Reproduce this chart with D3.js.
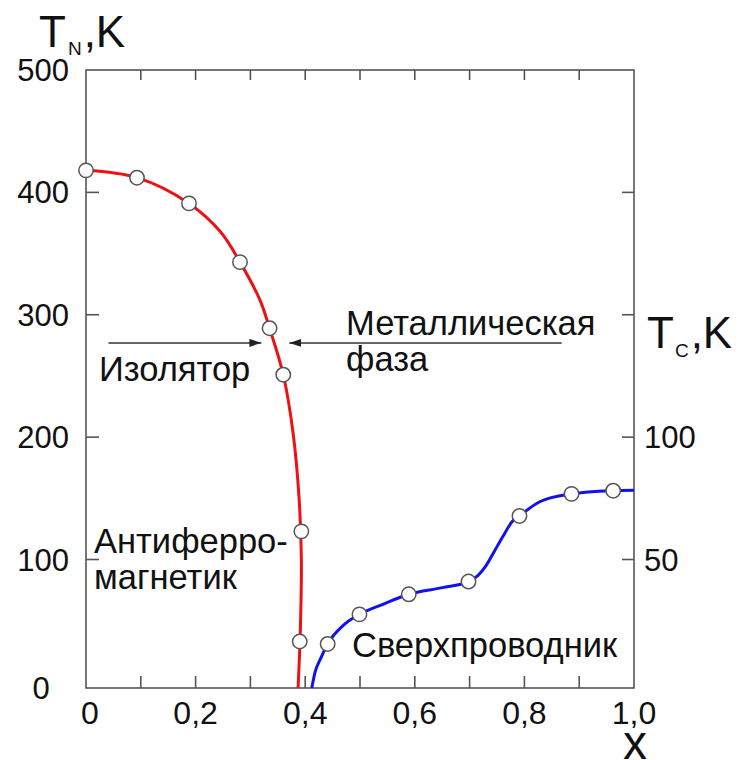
<!DOCTYPE html>
<html><head><meta charset="utf-8">
<script src="https://cdn.jsdelivr.net/npm/d3@7"></script>
<style>body{margin:0;background:#fff}svg{display:block}text{font-family:"Liberation Sans",Arial,sans-serif;fill:#111}</style>
</head><body><svg id="c" width="739" height="760"></svg>
<script>
// Measured points: Néel temperature (left axis)
const tnX = [0, 0.093, 0.188, 0.281, 0.335, 0.36, 0.393, 0.39];
const tnVal = [418, 412, 391, 343, 289, 251, 123, 33];
// Smooth guide line for T_N
const tnCurveX = [0, 0.093, 0.188, 0.245, 0.281, 0.3175, 0.335, 0.36, 0.378, 0.389, 0.393, 0.391, 0.387];
const tnCurveVal = [418, 412, 391, 368, 343, 312, 289, 251, 203, 149, 100, 40, -5];
// Measured points: superconducting Tc (right axis)
const tcX = [0.441, 0.499, 0.589, 0.698, 0.791, 0.886, 0.962];
const tcVal = [15.5, 27.6, 35.8, 41, 67.8, 76.8, 78.1];
// Smooth guide line for Tc
const tcCurveX = [0.412, 0.418, 0.427, 0.441, 0.469, 0.499, 0.545, 0.589, 0.65, 0.698, 0.715, 0.73, 0.745, 0.761, 0.777, 0.791, 0.828, 0.886, 0.962, 1.0];
const tcCurveVal = [-2.5, 4, 9, 15.5, 23, 27.6, 32, 35.8, 38.5, 41, 43.4, 47.5, 53.3, 59.5, 65.3, 67.8, 73.6, 76.8, 78.1, 78.3];
// Ticks
const xTickLabels = [0, 0.2, 0.4, 0.6, 0.8, 1.0];
const xTicksMinor = [0.1, 0.2, 0.3, 0.4, 0.5, 0.6, 0.7, 0.8, 0.9];
const tnTicks = [100, 200, 300, 400];
const tnTickLabels = [100, 200, 300, 400, 500];
const tcTicks = [50, 100, 150, 200];
const tcTickLabels = [50, 100];

const svg = d3.select('#c');
const L = 86, R = 634, T = 70, B = 688;
const x = d3.scaleLinear().domain([0, 1]).range([L, R]);
const yN = d3.scaleLinear().domain([-5, 500]).range([B, T]);
const yC = d3.scaleLinear().domain([-2.5, 250]).range([B, T]);
const fmt = v => (v === 0 ? '0' : d3.format('.1f')(v).replace('.', ','));
const axisCol = '#555';

// frame
svg.append('rect').attr('x', L).attr('y', T).attr('width', R - L).attr('height', B - T)
  .attr('fill', 'none').attr('stroke', axisCol).attr('stroke-width', 1.6);

// ticks (inward)
const tk = svg.append('g').attr('stroke', axisCol).attr('stroke-width', 1.6);
xTicksMinor.forEach(v => {
  tk.append('line').attr('x1', x(v)).attr('x2', x(v)).attr('y1', B).attr('y2', B - 12);
  tk.append('line').attr('x1', x(v)).attr('x2', x(v)).attr('y1', T).attr('y2', T + 10);
});
tnTicks.forEach(v => tk.append('line').attr('x1', L).attr('x2', L + 13).attr('y1', yN(v)).attr('y2', yN(v)));
tcTicks.forEach(v => tk.append('line').attr('x1', R).attr('x2', R - 12).attr('y1', yC(v)).attr('y2', yC(v)));

// tick labels
svg.append('g').selectAll('text').data(xTickLabels).join('text')
  .attr('x', d => x(d) + (d === 0 ? 4 : 0)).attr('y', 724).attr('text-anchor', 'middle')
  .attr('font-size', 32).text(fmt);
svg.append('g').selectAll('text').data(tnTickLabels).join('text')
  .attr('x', 69).attr('y', d => yN(d) + 11).attr('text-anchor', 'end')
  .attr('font-size', 31).text(d => d);
svg.append('text').attr('x', 41).attr('y', B + 11).attr('text-anchor', 'middle')
  .attr('font-size', 31).text('0');
svg.append('g').selectAll('text').data(tcTickLabels).join('text')
  .attr('x', 644).attr('y', d => yC(d) + 11).attr('text-anchor', 'start')
  .attr('font-size', 31).text(d => d);

// axis titles
const tn = svg.append('text').attr('x', 39).attr('y', 47).attr('font-size', 44);
tn.append('tspan').text('T');
tn.append('tspan').attr('font-size', 19).attr('dy', 8).attr('dx', 2).text('N');
tn.append('tspan').attr('dy', -8).attr('dx', 2).text(',K');
const tc = svg.append('text').attr('x', 647).attr('y', 348).attr('font-size', 44);
tc.append('tspan').text('T');
tc.append('tspan').attr('font-size', 19).attr('dy', 9).attr('dx', 1).text('C');
tc.append('tspan').attr('dy', -9).attr('dx', 2).text(',K');
svg.append('text').attr('x', 635).attr('y', 759).attr('text-anchor', 'middle')
  .attr('font-size', 48).text('x');

// curves
const lineN = d3.line().x(d => x(d[0])).y(d => yN(d[1])).curve(d3.curveCatmullRom.alpha(0.5));
const lineC = d3.line().x(d => x(d[0])).y(d => yC(d[1])).curve(d3.curveMonotoneX);
svg.append('path').attr('d', lineN(d3.zip(tnCurveX, tnCurveVal)))
  .attr('fill', 'none').attr('stroke', '#ee1111').attr('stroke-width', 3);
svg.append('path').attr('d', lineC(d3.zip(tcCurveX, tcCurveVal)))
  .attr('fill', 'none').attr('stroke', '#1111ee').attr('stroke-width', 3);

// arrows
const defs = svg.append('defs');
defs.append('marker').attr('id', 'ah').attr('viewBox', '0 0 12 8').attr('refX', 12).attr('refY', 4)
  .attr('markerWidth', 12).attr('markerHeight', 8).attr('markerUnits', 'userSpaceOnUse').attr('orient', 'auto')
  .append('path').attr('d', 'M0,0L12,4L0,8Z').attr('fill', '#222');
const arrowY = 277;
svg.append('line').attr('x1', x(0.041)).attr('x2', x(0.32)).attr('y1', yN(arrowY)).attr('y2', yN(arrowY))
  .attr('stroke', '#333').attr('stroke-width', 1.5).attr('marker-end', 'url(#ah)');
svg.append('line').attr('x1', x(0.868)).attr('x2', x(0.371)).attr('y1', yN(arrowY)).attr('y2', yN(arrowY))
  .attr('stroke', '#333').attr('stroke-width', 1.5).attr('marker-end', 'url(#ah)');

// points
const pt = svg.append('g').attr('fill', '#fff').attr('stroke', '#555').attr('stroke-width', 1.5);
d3.zip(tnX, tnVal).forEach(d => pt.append('circle').attr('cx', x(d[0])).attr('cy', yN(d[1])).attr('r', 7.2));
d3.zip(tcX, tcVal).forEach(d => pt.append('circle').attr('cx', x(d[0])).attr('cy', yC(d[1])).attr('r', 7.2));

// annotations
const ann = [
  ['Изолятор', 99, 381],
  ['Металлическая', 346, 335],
  ['фаза', 346, 371],
  ['Антиферро-', 94, 553],
  ['магнетик', 94, 589],
  ['Сверхпроводник', 352, 657]
];
svg.append('g').selectAll('text').data(ann).join('text')
  .attr('x', d => d[1]).attr('y', d => d[2]).attr('font-size', 34.5).text(d => d[0]);
</script></body></html>
